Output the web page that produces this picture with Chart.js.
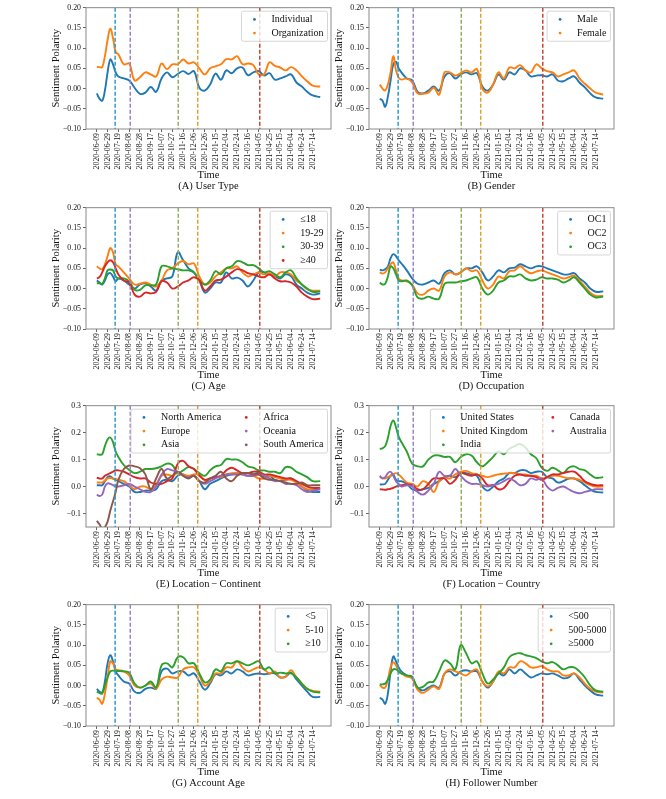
<!DOCTYPE html>
<html>
<head>
<meta charset="utf-8">
<script src="https://cdn.jsdelivr.net/npm/chart.js@4.4.1/dist/chart.umd.min.js"></script>
<style>
  html, body { margin: 0; padding: 0; background: #fff; }
  #fig { position: relative; width: 666px; height: 799px; overflow: hidden; }
  .panel { position: absolute; }
</style>
</head>
<body>
<div id="fig"></div>
<script>
// days since 2020-06-09
const days = [0, 5, 10, 15, 20, 25, 30, 35, 40, 50, 60, 70, 80, 90, 100, 110, 120, 130, 140,
  150, 160, 170, 180, 190, 200, 210, 220, 230, 240, 250, 260, 270, 280, 290, 300, 310, 320,
  330, 340, 350, 360, 370, 380, 390, 400, 414];

const tickDays = [0, 20, 40, 60, 80, 100, 120, 140, 160, 180, 200, 220, 240, 260, 280, 300, 320, 340, 360, 380, 400];
const tickLabels = ['2020-06-09', '2020-06-29', '2020-07-19', '2020-08-08', '2020-08-28', '2020-09-17',
  '2020-10-07', '2020-10-27', '2020-11-16', '2020-12-06', '2020-12-26', '2021-01-15', '2021-02-04',
  '2021-02-24', '2021-03-16', '2021-04-05', '2021-04-25', '2021-05-15', '2021-06-04', '2021-06-24', '2021-07-14'];

const eventDays = [34, 62, 151, 187, 302];
const eventColors = ['#2f9bc8', '#9b82c6', '#8fae5c', '#d9a232', '#c4473a'];

const yTicksNarrow = [-0.10, -0.05, 0.00, 0.05, 0.10, 0.15, 0.20];
const yTicksWide = [-0.1, 0.0, 0.1, 0.2, 0.3];

// (A) user type
const userIndividual = [-0.012,-0.025,-0.03,-0.005,0.04,0.072,0.06,0.04,0.03, 0.025,0.02,0.002,-0.013,-0.01, 0.004,-0.008,0.025,0.04,0.028, 0.036,0.043,0.036,0.043,0.002, -0.005,0.01,0.037,0.022,0.045, 0.038,0.05,0.052,0.033,0.04, 0.043,0.032,0.038,0.022,0.025, 0.03,0.035,0.015,0.005,-0.008, -0.017,-0.021];
const userOrganization = [0.053,0.053,0.053,0.08,0.12,0.148,0.125,0.09,0.085, 0.06,0.062,0.02,0.028,0.04, 0.035,0.03,0.062,0.048,0.06, 0.06,0.072,0.062,0.065,0.05, 0.035,0.05,0.055,0.06,0.073, 0.072,0.08,0.06,0.062,0.058, 0.035,0.035,0.065,0.056,0.052, 0.045,0.053,0.045,0.03,0.018, 0.007,0.005];

// (B) gender
const genderMale = [-0.025,-0.03,-0.045,-0.02,0.02,0.06,0.066,0.05,0.04, 0.025,0.02,-0.008,-0.012,-0.005, 0.005,-0.005,0.03,0.038,0.025, 0.035,0.04,0.035,0.038,0.005, -0.005,0.01,0.035,0.022,0.04, 0.035,0.05,0.045,0.03,0.032, 0.033,0.03,0.035,0.02,0.018, 0.025,0.03,0.015,0.003,-0.012, -0.022,-0.025];
const genderFemale = [0.01,0.0,-0.005,0.01,0.04,0.08,0.045,0.027,0.022, 0.025,0.015,-0.012,-0.013,-0.01, 0.002,-0.015,0.04,0.04,0.032, 0.038,0.045,0.04,0.048,0.0, -0.01,0.01,0.04,0.025,0.052, 0.05,0.058,0.045,0.04,0.06, 0.05,0.043,0.04,0.03,0.035, 0.04,0.045,0.025,0.012,0.0, -0.01,-0.015];

// (C) age
const ageUnder18 = [0.02,0.015,0.01,0.02,0.035,0.038,0.03,0.018,0.025, 0.02,0.01,0.0,0.01,0.013, 0.005,-0.005,0.02,0.025,0.03, 0.09,0.07,0.05,0.04,0.02, -0.01,0.0,0.015,0.015,0.04, 0.025,0.027,0.02,0.005,0.02, 0.04,0.04,0.035,0.03,0.025, 0.035,0.03,0.01,0.0,-0.01, -0.015,-0.012];
const age19to29 = [0.055,0.05,0.048,0.06,0.08,0.1,0.09,0.06,0.055, 0.04,0.025,0.01,0.012,0.015, 0.01,0.005,0.02,0.045,0.05, 0.062,0.068,0.06,0.062,0.03, 0.01,0.015,0.03,0.04,0.05, 0.05,0.055,0.04,0.03,0.035, 0.04,0.035,0.038,0.03,0.04, 0.04,0.035,0.02,0.01,-0.002, -0.005,-0.005];
const age30to39 = [0.013,0.013,0.012,0.025,0.045,0.047,0.045,0.03,0.025, 0.025,0.018,-0.003,-0.003,0.008, 0.008,0.01,0.055,0.055,0.05, 0.048,0.045,0.045,0.04,0.02, 0.01,0.02,0.043,0.035,0.05, 0.055,0.068,0.065,0.058,0.058, 0.05,0.04,0.043,0.035,0.028, 0.04,0.045,0.025,0.01,0.0, -0.008,-0.007];
const ageOver40 = [0.025,0.028,0.04,0.055,0.065,0.07,0.065,0.05,0.035, 0.02,0.015,-0.015,-0.02,-0.01, -0.012,-0.008,0.018,0.015,0.0, 0.005,0.015,0.02,0.028,0.02, -0.005,0.005,0.02,0.022,0.03, 0.04,0.048,0.045,0.038,0.035, 0.03,0.028,0.035,0.025,0.018, 0.018,0.015,0.005,-0.01,-0.02, -0.026,-0.025];

// (D) occupation
const occ1 = [0.047,0.045,0.048,0.055,0.075,0.085,0.08,0.07,0.062, 0.045,0.025,0.012,0.01,0.015, 0.02,0.012,0.038,0.045,0.035, 0.04,0.05,0.05,0.055,0.04, 0.02,0.03,0.045,0.04,0.05, 0.052,0.06,0.055,0.05,0.055, 0.055,0.05,0.045,0.04,0.035, 0.035,0.038,0.025,0.015,0.0, -0.008,-0.007];
const occ2 = [0.04,0.037,0.04,0.05,0.06,0.065,0.045,0.025,0.02, 0.018,0.01,-0.012,-0.015,-0.005, 0.0,-0.005,0.03,0.04,0.035, 0.04,0.05,0.043,0.045,0.02, 0.0,0.01,0.03,0.025,0.043, 0.045,0.055,0.045,0.038,0.042, 0.045,0.04,0.035,0.03,0.025, 0.028,0.032,0.02,0.005,-0.01, -0.018,-0.018];
const occ3 = [0.015,0.01,0.012,0.03,0.055,0.05,0.035,0.02,0.018, 0.02,0.008,-0.022,-0.025,-0.02, -0.025,-0.025,0.012,0.015,0.015, 0.018,0.02,0.025,0.028,0.0, -0.015,-0.005,0.015,0.02,0.03, 0.03,0.035,0.025,0.02,0.022, 0.028,0.025,0.025,0.022,0.015, 0.02,0.028,0.015,0.0,-0.015, -0.022,-0.02];

// (E) continent
const contNorthAmerica = [0.005,0.005,0.005,0.02,0.035,0.038,0.03,0.025,0.02, 0.01,0.0,-0.02,-0.02,-0.015, -0.015,-0.01,0.02,0.025,0.02, 0.04,0.045,0.035,0.04,0.02, -0.01,0.01,0.02,0.03,0.04, 0.045,0.05,0.045,0.04,0.045, 0.05,0.035,0.04,0.025,0.02, 0.025,0.03,0.015,0.0,-0.015, -0.02,-0.02];
const contEurope = [0.015,0.015,0.015,0.022,0.03,0.032,0.03,0.028,0.025, 0.02,0.005,-0.01,0.0,0.0, -0.01,0.01,0.04,0.045,0.04, 0.05,0.045,0.04,0.045,0.045, 0.025,0.03,0.035,0.035,0.045, 0.05,0.05,0.045,0.04,0.04, 0.03,0.03,0.04,0.035,0.03, 0.025,0.025,0.015,0.0,-0.01, -0.01,-0.01];
const contAsia = [0.12,0.118,0.12,0.15,0.175,0.182,0.165,0.13,0.11, 0.08,0.062,0.05,0.055,0.065, 0.065,0.068,0.075,0.085,0.08, 0.05,0.06,0.072,0.065,0.05, 0.04,0.06,0.075,0.08,0.102, 0.1,0.1,0.09,0.075,0.07, 0.06,0.06,0.055,0.055,0.05, 0.072,0.07,0.055,0.045,0.035, 0.02,0.02];
const contAfrica = [0.033,0.03,0.03,0.04,0.045,0.05,0.055,0.06,0.06, 0.055,0.045,0.035,0.03,0.03, 0.015,0.01,0.01,0.02,0.03, 0.085,0.095,0.075,0.065,0.04, 0.025,0.03,0.035,0.04,0.06, 0.07,0.06,0.05,0.05,0.055, 0.055,0.045,0.045,0.04,0.035, 0.03,0.03,0.02,0.01,0.0, -0.005,-0.005];
const contOceania = [-0.03,-0.035,-0.03,0.0,0.012,0.01,0.005,0.0,0.0, 0.005,0.01,0.0,-0.01,-0.02, -0.02,0.0,0.045,0.065,0.06, 0.055,0.04,0.035,0.04,0.02, 0.01,0.02,0.03,0.04,0.045, 0.045,0.045,0.045,0.04,0.04, 0.045,0.04,0.03,0.02,0.02, 0.01,0.01,0.005,-0.01,-0.02, -0.015,-0.01];
const contSouthAmerica = [-0.127,-0.14,-0.155,-0.15,-0.13,-0.09,-0.055,-0.02,0.025, 0.065,0.078,0.075,0.068,0.045, -0.01,0.03,0.065,0.03,0.04, 0.055,0.04,0.03,0.04,0.02, 0.015,0.03,0.04,0.055,0.03, 0.02,0.04,0.05,0.05,0.045, 0.045,0.03,0.025,0.025,0.02, 0.015,0.01,0.01,0.015,0.005, 0.005,0.005];

// (F) country
const ctryUS = [0.008,0.008,0.01,0.025,0.04,0.045,0.025,0.02,0.02, 0.01,-0.01,-0.015,-0.01,-0.005, 0.01,0.02,0.035,0.04,0.035, 0.05,0.05,0.045,0.04,0.0, -0.015,0.0,0.02,0.03,0.05, 0.05,0.06,0.06,0.05,0.055, 0.055,0.035,0.03,0.015,0.02, 0.03,0.03,0.02,0.005,-0.01, -0.02,-0.022];
const ctryUK = [0.035,0.032,0.03,0.035,0.04,0.045,0.05,0.045,0.035, 0.015,0.01,0.0,0.02,0.01, -0.02,0.02,0.035,0.03,0.045, 0.055,0.058,0.05,0.045,0.04, 0.035,0.04,0.045,0.048,0.05, 0.05,0.045,0.045,0.04,0.04, 0.03,0.035,0.04,0.04,0.035, 0.03,0.03,0.025,0.015,0.005, 0.0,0.0];
const ctryIndia = [0.14,0.142,0.15,0.18,0.225,0.245,0.22,0.185,0.165, 0.13,0.085,0.075,0.075,0.1, 0.115,0.115,0.11,0.11,0.09, 0.11,0.12,0.115,0.09,0.075, 0.09,0.11,0.13,0.12,0.14, 0.15,0.158,0.145,0.12,0.105, 0.07,0.058,0.07,0.06,0.05, 0.07,0.075,0.065,0.06,0.045, 0.032,0.035];
const ctryCanada = [-0.01,-0.011,-0.012,-0.01,-0.008,-0.005,0.0,0.003,0.005, 0.008,0.005,-0.01,-0.01,0.01, 0.03,0.03,0.03,0.01,0.025, 0.05,0.045,0.04,0.045,0.03, 0.005,0.005,-0.01,-0.005,0.02, 0.04,0.045,0.04,0.04,0.035, 0.025,0.035,0.045,0.045,0.05, 0.055,0.055,0.04,0.02,0.01, 0.005,0.005];
const ctryAustralia = [0.04,0.03,0.035,0.05,0.055,0.04,0.02,0.01,0.0, 0.005,0.0,-0.02,-0.03,-0.015, 0.01,0.055,0.04,0.04,0.065, 0.04,0.02,0.01,0.01,0.005, 0.0,0.005,0.01,0.02,0.03, 0.02,0.005,0.01,0.03,0.025, 0.03,0.0,-0.015,-0.005,0.0, -0.01,-0.02,-0.025,-0.02,-0.015, -0.01,-0.01];

// (G) account age
const accUnder5 = [-0.008,-0.015,-0.018,0.01,0.055,0.075,0.06,0.035,0.025, 0.01,0.005,-0.015,-0.018,-0.008, -0.005,-0.008,0.035,0.042,0.03, 0.035,0.035,0.025,0.03,0.01, -0.01,0.005,0.028,0.025,0.035, 0.03,0.04,0.035,0.025,0.028, 0.03,0.028,0.03,0.03,0.02, 0.022,0.032,0.015,0.0,-0.015, -0.028,-0.028];
const acc5to10 = [-0.03,-0.035,-0.045,-0.02,0.02,0.06,0.055,0.04,0.038, 0.035,0.025,0.0,-0.005,0.0, 0.005,-0.008,0.015,0.022,0.02, 0.02,0.04,0.045,0.045,0.025, 0.0,0.01,0.03,0.03,0.045, 0.045,0.06,0.045,0.035,0.04, 0.045,0.04,0.03,0.035,0.02, 0.022,0.038,0.02,0.005,-0.008, -0.013,-0.015];
const accOver10 = [-0.015,-0.018,-0.02,0.0,0.02,0.035,0.037,0.036,0.036, 0.035,0.032,0.005,-0.005,0.0, 0.01,-0.005,0.05,0.055,0.045, 0.07,0.07,0.055,0.055,0.03, 0.008,0.015,0.04,0.035,0.055, 0.055,0.06,0.055,0.05,0.055, 0.06,0.04,0.045,0.03,0.032, 0.03,0.03,0.02,0.005,-0.008, -0.015,-0.017];

// (H) follower number
const folUnder500 = [-0.03,-0.035,-0.045,-0.02,0.035,0.072,0.06,0.045,0.035, 0.025,0.018,-0.005,-0.012,-0.005, 0.0,-0.005,0.03,0.035,0.025, 0.035,0.038,0.035,0.035,0.01, -0.005,0.01,0.03,0.025,0.04, 0.03,0.04,0.03,0.02,0.025, 0.03,0.028,0.03,0.025,0.018, 0.02,0.03,0.015,0.0,-0.012, -0.022,-0.025];
const fol500to5000 = [0.002,-0.005,-0.005,0.015,0.045,0.058,0.05,0.035,0.03, 0.022,0.018,-0.01,-0.018,-0.01, -0.002,-0.008,0.03,0.04,0.035, 0.03,0.025,0.035,0.04,0.01, -0.002,0.01,0.035,0.03,0.045, 0.045,0.06,0.055,0.045,0.045, 0.048,0.04,0.035,0.035,0.025, 0.025,0.03,0.02,0.005,-0.008, -0.015,-0.017];
const folOver5000 = [0.003,0.003,0.005,0.015,0.03,0.04,0.04,0.035,0.03, 0.025,0.022,-0.005,-0.003,0.008, 0.01,0.035,0.062,0.055,0.04, 0.1,0.08,0.055,0.06,0.03, 0.005,0.015,0.03,0.045,0.07, 0.078,0.08,0.075,0.072,0.068, 0.06,0.055,0.058,0.05,0.04, 0.045,0.045,0.035,0.02,0.0, -0.012,-0.015];

const C_BLUE = '#1f77b4', C_ORANGE = '#ff7f0e', C_GREEN = '#2ca02c',
      C_RED = '#d62728', C_PURPLE = '#9467bd', C_BROWN = '#8c564b';

const panels = [
  { caption: '(A) User Type', left: 50, plotTop: 7, names: ['Individual', 'Organization'],
    series: [userIndividual, userOrganization], colors: [C_BLUE, C_ORANGE], wide: false, ncol: 1 },
  { caption: '(B) Gender', left: 333, plotTop: 7, names: ['Male', 'Female'],
    series: [genderMale, genderFemale], colors: [C_BLUE, C_ORANGE], wide: false, ncol: 1 },
  { caption: '(C) Age', left: 50, plotTop: 206.5, names: ['≤18', '19-29', '30-39', '≥40'],
    series: [ageUnder18, age19to29, age30to39, ageOver40], colors: [C_BLUE, C_ORANGE, C_GREEN, C_RED], wide: false, ncol: 1 },
  { caption: '(D) Occupation', left: 333, plotTop: 206.5, names: ['OC1', 'OC2', 'OC3'],
    series: [occ1, occ2, occ3], colors: [C_BLUE, C_ORANGE, C_GREEN], wide: false, ncol: 1 },
  { caption: '(E) Location\u2009\u2212\u2009Continent', left: 50, plotTop: 405,
    names: ['North America', 'Europe', 'Asia', 'Africa', 'Oceania', 'South America'],
    series: [contNorthAmerica, contEurope, contAsia, contAfrica, contOceania, contSouthAmerica],
    colors: [C_BLUE, C_ORANGE, C_GREEN, C_RED, C_PURPLE, C_BROWN], wide: true, ncol: 2 },
  { caption: '(F) Location\u2009\u2212\u2009Country', left: 333, plotTop: 405,
    names: ['United States', 'United Kingdom', 'India', 'Canada', 'Australia'],
    series: [ctryUS, ctryUK, ctryIndia, ctryCanada, ctryAustralia],
    colors: [C_BLUE, C_ORANGE, C_GREEN, C_RED, C_PURPLE], wide: true, ncol: 2 },
  { caption: '(G) Account Age', left: 50, plotTop: 603.5, names: ['<5', '5-10', '≥10'],
    series: [accUnder5, acc5to10, accOver10], colors: [C_BLUE, C_ORANGE, C_GREEN], wide: false, ncol: 1 },
  { caption: '(H) Follower Number', left: 333, plotTop: 603.5, names: ['<500', '500-5000', '≥5000'],
    series: [folUnder500, fol500to5000, folOver5000], colors: [C_BLUE, C_ORANGE, C_GREEN], wide: false, ncol: 1 },
];

const SERIF = "'Liberation Serif', 'Times New Roman', serif";
Chart.defaults.font.family = SERIF;
Chart.defaults.color = '#111';

const PAD_TOP = 6, PLOT_H = 122, XAXIS_H = 62, PAD_BOTTOM = 2, YAXIS_W = 36, CANVAS_W = 283;

// event lines, matplotlib-like legend inside the axes, and the box frame
const decor = {
  id: 'decor',
  afterDatasetsDraw(chart, args, opts) {
    const { ctx, chartArea: a } = chart;
    const x = chart.scales.x;
    ctx.save();
    ctx.beginPath();
    ctx.rect(a.left, a.top, a.right - a.left, a.bottom - a.top);
    ctx.clip();
    ctx.lineWidth = 1.5;
    ctx.setLineDash([4, 2]);
    eventDays.forEach((d, i) => {
      const px = x.getPixelForValue(d);
      ctx.strokeStyle = eventColors[i];
      ctx.beginPath();
      ctx.moveTo(px, a.top);
      ctx.lineTo(px, a.bottom);
      ctx.stroke();
    });
    ctx.restore();

    ctx.save();
    ctx.font = '10px ' + SERIF;
    const sets = chart.data.datasets;
    const ncol = opts.ncol || 1;
    const nrow = Math.ceil(sets.length / ncol);
    const colW = [];
    for (let c = 0; c < ncol; c++) {
      let w = 0;
      sets.slice(c * nrow, (c + 1) * nrow).forEach(s => { w = Math.max(w, ctx.measureText(s.label).width); });
      colW.push(26 + w);
    }
    const bw = 8 + colW.reduce((p, q) => p + q, 0) + 16 * (ncol - 1);
    const bh = 16.4 + 13.7 * (nrow - 1);
    const bx = a.right - 3.5 - bw, by = a.top + 3.5;
    ctx.beginPath();
    if (ctx.roundRect) ctx.roundRect(bx, by, bw, bh, 2); else ctx.rect(bx, by, bw, bh);
    ctx.fillStyle = 'rgba(255,255,255,0.8)';
    ctx.fill();
    ctx.strokeStyle = '#cccccc';
    ctx.lineWidth = 0.8;
    ctx.stroke();
    ctx.textBaseline = 'middle';
    let cx = bx + 4;
    for (let c = 0; c < ncol; c++) {
      sets.slice(c * nrow, (c + 1) * nrow).forEach((s, r) => {
        const cy = by + 8.2 + r * 13.7;
        ctx.fillStyle = s.borderColor;
        ctx.beginPath();
        ctx.arc(cx + 9, cy, 1.4, 0, Math.PI * 2);
        ctx.fill();
        ctx.fillStyle = '#111';
        ctx.fillText(s.label, cx + 26, cy);
      });
      cx += colW[c] + 16;
    }
    ctx.restore();
  },
  afterDraw(chart) {
    const { ctx, chartArea: a } = chart;
    ctx.save();
    ctx.strokeStyle = '#8a8a8a';
    ctx.lineWidth = 1;
    ctx.strokeRect(a.left, a.top, a.right - a.left, a.bottom - a.top);
    ctx.restore();
  }
};

const fig = document.getElementById('fig');

panels.forEach(p => {
  const canvas = document.createElement('canvas');
  canvas.className = 'panel';
  canvas.width = CANVAS_W;
  canvas.height = PAD_TOP + PLOT_H + XAXIS_H + PAD_BOTTOM;
  canvas.style.left = p.left + 'px';
  canvas.style.top = (p.plotTop - PAD_TOP) + 'px';
  canvas.style.width = CANVAS_W + 'px';
  canvas.style.height = canvas.height + 'px';
  fig.append(canvas);

  const yTicks = p.wide ? yTicksWide : yTicksNarrow;
  const digits = p.wide ? 1 : 2;

  new Chart(canvas, {
    type: 'line',
    data: {
      datasets: p.series.map((vals, i) => ({
        label: p.names[i],
        data: days.map((d, j) => ({ x: d, y: vals[j] })),
        borderColor: p.colors[i],
        backgroundColor: p.colors[i],
        borderWidth: 1.9,
        pointRadius: 0,
        tension: 0.4,
        fill: false,
        order: -i,
      })),
    },
    options: {
      responsive: false,
      animation: false,
      events: [],
      layout: { padding: { top: PAD_TOP, bottom: PAD_BOTTOM, left: 0, right: 2 } },
      plugins: {
        legend: { display: false },
        tooltip: { enabled: false },
        decor: { ncol: p.ncol },
      },
      scales: {
        x: {
          type: 'linear',
          min: -20,
          max: 434,
          afterBuildTicks: s => { s.ticks = tickDays.map(v => ({ value: v })); },
          afterFit: s => { s.height = XAXIS_H; },
          ticks: {
            autoSkip: false,
            minRotation: 90,
            maxRotation: 90,
            padding: 1,
            color: '#111',
            font: { size: 7.8 },
            callback: (v, i) => tickLabels[i],
          },
          grid: { drawOnChartArea: false, tickLength: 3, color: '#666' },
          border: { display: false },
          title: {
            display: true,
            text: ['Time', p.caption],
            color: '#111',
            font: { size: 10.5, lineHeight: 1.0 },
            padding: 0,
          },
        },
        y: {
          min: p.wide ? -0.15 : -0.1,
          max: p.wide ? 0.3 : 0.2,
          afterBuildTicks: s => { s.ticks = yTicks.map(v => ({ value: v })); },
          afterFit: s => { s.width = YAXIS_W; },
          ticks: {
            padding: 2,
            color: '#111',
            font: { size: 7.8 },
            callback: v => v.toFixed(digits).replace('-', '\u2212'),
          },
          grid: { drawOnChartArea: false, tickLength: 3, color: '#666' },
          border: { display: false },
          title: {
            display: true,
            text: 'Sentiment Polarity',
            color: '#111',
            font: { size: 10.5 },
            padding: 0,
          },
        },
      },
    },
    plugins: [decor],
  });
});
</script>
</body>
</html>
